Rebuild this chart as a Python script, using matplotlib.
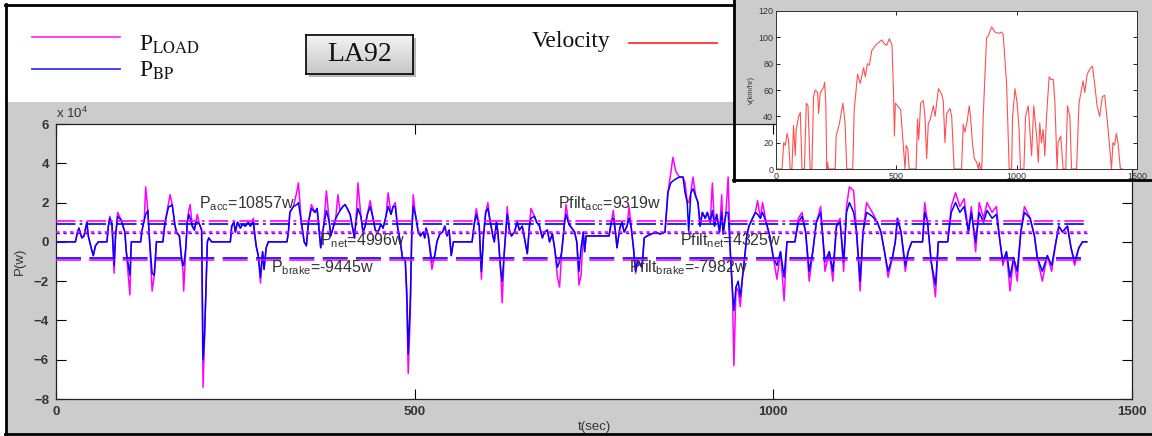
import matplotlib
matplotlib.use('Agg')
import matplotlib.pyplot as plt
import numpy as np
from matplotlib.patches import Rectangle
from matplotlib.lines import Line2D

plt.rcParams['font.family'] = ['Liberation Sans', 'DejaVu Sans']
plt.rcParams['mathtext.fontset'] = 'custom'
plt.rcParams['mathtext.rm'] = 'Liberation Sans'
plt.rcParams['mathtext.it'] = 'Liberation Sans:italic'
plt.rcParams['mathtext.bf'] = 'Liberation Sans:bold'
plt.rcParams['lines.scale_dashes'] = False

# ---------------- data (power in units of 1e4 W) ----------------
t_pw = [0, 27, 30, 32, 36, 39, 43, 45, 49, 52, 55, 57, 59, 71, 73, 75, 78, 81, 83, 86, 91, 96, 98, 103, 105,
        118, 120, 123, 125, 128, 130, 134, 137, 140, 149, 152, 157, 159, 162, 166, 168, 172, 175, 177, 178,
        181, 183, 185, 187, 190, 193, 195, 197, 200, 203, 205, 207, 209, 211, 213, 215, 217, 243, 245, 248,
        250, 253, 257, 260, 264, 268, 271, 275, 277, 279, 282, 285, 288, 290, 293, 296, 322, 324, 326, 331,
        336, 338, 342, 346, 349, 352, 356, 361, 364, 367, 369, 373, 377, 381, 383, 387, 390, 393, 396, 400,
        403, 406, 410, 414, 416, 418, 421, 425, 428, 431, 434, 438, 442, 445, 449, 453, 456, 460, 463, 467,
        470, 473, 476, 480, 483, 487, 489, 491, 494, 496, 498, 501, 505, 508, 512, 514, 516, 519, 524, 528,
        531, 535, 539, 542, 545, 548, 551, 554, 580, 583, 586, 590, 593, 596, 599, 602, 605, 609, 611, 614,
        616, 620, 622, 625, 627, 629, 632, 635, 639, 643, 646, 650, 654, 657, 660, 662, 667, 670, 674, 678,
        681, 685, 688, 692, 695, 699, 702, 705, 709, 711, 715, 719, 723, 726, 729, 732, 735, 737, 739, 771,
        774, 777, 780, 782, 786, 789, 792, 796, 799, 802, 805, 808, 811, 815, 817, 820, 824, 830, 836, 842,
        849, 851, 853, 857, 860, 864, 869, 874, 877, 880, 882, 885, 888, 892, 895, 898, 901, 905, 908, 912,
        915, 918, 921, 925, 928, 930, 934, 937, 940, 943, 945, 948, 951, 954, 957, 960, 963, 966, 971, 975,
        978, 982, 985, 990, 995, 1000, 1005, 1010, 1015, 1019, 1030, 1035, 1040, 1045, 1050, 1055, 1060, 1066,
        1072, 1078, 1083, 1088, 1093, 1098, 1102, 1106, 1112, 1116, 1121, 1125, 1130, 1138, 1145, 1150, 1155,
        1160, 1166, 1170, 1173, 1178, 1184, 1188, 1193, 1208, 1211, 1215, 1220, 1226, 1230, 1243, 1248, 1254,
        1260, 1266, 1272, 1276, 1282, 1287, 1293, 1298, 1305, 1311, 1316, 1320, 1325, 1330, 1335, 1340, 1345,
        1350, 1358, 1364, 1368, 1375, 1382, 1388, 1394, 1398, 1403, 1410, 1415, 1420, 1426, 1431, 1437]

p_bp = [0, 0, 0.5, 0.7, 0.2, 0.3, 1.0, 0.3, -0.3, -0.7, -0.2, -0.1, 0, 0, 0.8, 1.2, 0.9, -1.2, 0.3, 1.3, 1.1, 0.5, -0.5, -1.7, 0,
        0, 0.6, 1.1, 1.4, 1.6, 0.3, -1.6, -1.7, 0, 0, 1.0, 1.8, 1.8, 1.9, 0.8, 0.5, 0.3, -0.8, -1.2, -1.2,
        -0.3, 1.0, 1.4, 1.2, 0.8, 0.6, 1.0, 1.0, 0.9, 0.6, -6.0, -4.8, -2.5, 0, 0.2, 0.1, 0, 0, 0.8, 1.0,
        0.5, 1.0, 0.7, 0.9, 0.8, 1.0, 0.8, 1.0, 0.4, -0.2, -0.7, -1.8, -0.5, -1.4, -0.3, 0, 0, 0.5, 1.5, 1.8,
        1.9, 2.0, 1.0, 0.0, -0.2, 1.0, 1.7, 1.5, 1.7, 0.5, -0.3, 0.8, 1.6, 1.0, 0.3, 0.8, 1.2, 1.4, 1.6, 1.8,
        1.9, 1.7, 1.4, 0.6, 0.2, 1.0, 1.7, 1.3, 0.5, 0.8, 1.4, 1.8, 1.2, 0.6, 0.5, 0.9, 0.7, 1.3, 1.8, 1.4,
        1.8, 1.8, 0.8, 0.0, -0.8, -1.0, -2.5, -5.7, -2.9, 0.5, 1.8, 1.4, 0.5, 0.3, 0.5, 0.2, 0.7, 0.3, -1.0, -0.7,
        0.0, 0.4, 0.5, 0.8, 0.3, 0.6, -0.7, 0, 0, 0.9, 1.4, 0.8, -1.5, 0.3, 1.5, 1.7, 1.1, 0.3, 0.0, 1.0,
        0.5, -1.5, -2.0, -0.5, 0.5, 1.4, 0.6, 0.3, 0.5, 1.0, 0.6, 0.8, 0.0, -0.6, 0.8, 1.2, 1.3, 1.0, 0.8, 0.2,
        0.5, 0.6, 0.0, 0.4, -0.3, -1.3, -1.0, -0.5, 1.0, 1.4, 0.9, 0.7, 0.5, 0.0, -1.5, -0.3, 0.5, -0.5, 0.3, 0.3,
        1.0, 1.2, 0.5, -0.3, 0.7, 1.0, 0.5, 0.8, 1.2, 0.7, -0.3, -1.5, -0.9, -1.2, -1.3, 0.2, 0.3, 0.4, 0.5, 0.4,
        0.5, 1.5, 2.5, 3.0, 3.1, 3.2, 3.3, 3.3, 2.5, 2.0, 0.5, 2.5, 2.7, 2.3, 2.0, 0.8, 1.5, 1.2, 1.5, 1.0,
        1.6, 0.8, 1.4, 0.5, 1.5, 0.4, 1.5, 1.5, -0.5, -2.5, -3.5, -2.3, -2.0, -2.8, -1.8, -0.8, 0.3, 0.8, 1.2, 1.5,
        1.4, 1.2, 1.5, 1.0, 0.3, -0.8, -1.2, -0.5, -1.8, 0, 0, 1.0, 1.3, 0.5, -1.5, -0.5, 1.0, 1.5,
        -1.0, -0.5, -1.5, 0.8, 1.0, -1.0, 1.5, 2.0, 1.5, 0.5, -2.0, 0.5, 1.5, 1.3, 1.0, 0.5, -0.5,
        -1.5, -0.8, 0, 1.2, 0.5, -1.2, -0.5, 0, 0, 1.5, 1.0, -1.0, -2.2, 0, 0, 1.5, 2.0,
        1.5, 1.8, 0.5, 1.5, 0.0, 1.5, 1.0, 1.6, 1.2, 1.4, 0.0, -1.0, -0.5, -1.8, -0.8, -1.5, 0.5,
        1.5, 1.2, 0.3, -0.8, -1.5, -0.7, -1.2, 0, 0.8, 0.5, 0.8, -0.3, -1.0, -0.3, 0, 0]

p_load = [0, 0, 0.5, 0.7, 0.2, 0.3, 1.0, 0.3, -0.3, -0.7, -0.2, -0.1, 0, 0, 0.8, 1.3, 0.9, -1.6, 0.3, 1.5, 1.1, 0.5, -0.5, -2.7, 0,
          0, 0.6, 1.1, 2.8, 1.6, 0.3, -2.5, -1.7, 0, 0, 1.0, 2.0, 2.4, 1.9, 0.8, 0.5, 0.3, -0.8, -1.5, -2.5,
          -0.3, 1.0, 1.6, 1.9, 0.8, 0.6, 1.0, 1.4, 0.9, 0.6, -7.4, -5.0, -2.5, 0, 0.2, 0.1, 0, 0, 0.8, 1.0,
          0.5, 1.0, 0.7, 0.9, 0.8, 1.0, 0.8, 1.2, 0.4, -0.2, -0.7, -2.1, -0.5, -1.4, -0.3, 0, 0, 0.5, 1.5, 1.8,
          2.6, 3.0, 1.0, 0.0, -0.2, 1.0, 1.9, 1.5, 1.7, 0.5, -0.3, 0.8, 2.6, 1.0, 0.3, 0.8, 1.2, 2.4, 1.6, 1.8,
          1.9, 1.7, 1.4, 0.6, 0.2, 1.0, 3.0, 1.3, 0.5, 0.8, 1.4, 2.1, 1.2, 0.6, 0.5, 0.9, 0.7, 1.3, 2.5, 1.4,
          1.8, 2.0, 0.8, 0.0, -0.8, -1.0, -3.0, -6.7, -3.5, 0.5, 2.4, 1.4, 0.5, 0.3, 0.5, 0.2, 0.7, 0.3, -1.4, -0.7,
          0.0, 0.4, 0.5, 0.8, 0.3, 0.6, -0.7, 0, 0, 0.9, 1.7, 0.8, -1.9, 0.3, 1.5, 2.0, 1.1, 0.3, 0.0, 1.0,
          0.5, -1.5, -3.1, -0.5, 0.5, 1.8, 0.6, 0.3, 0.5, 1.0, 0.6, 0.8, 0.0, -0.6, 0.8, 1.7, 1.3, 1.0, 0.8, 0.2,
          0.5, 0.6, 0.0, 0.4, -0.3, -1.8, -2.3, -0.5, 1.0, 1.9, 0.9, 0.7, 0.5, 0.0, -2.2, -1.7, 0.5, -0.5, 0.3, 0.3,
          1.0, 1.6, 0.5, -0.3, 0.7, 1.0, 0.5, 0.8, 1.8, 0.7, -0.3, -1.6, -0.9, -1.2, -1.3, 0.2, 0.3, 0.4, 0.5, 0.4,
          0.5, 1.5, 2.5, 3.5, 4.3, 3.6, 3.3, 3.3, 3.0, 2.0, 2.0, 2.5, 3.3, 2.3, 2.0, 0.8, 1.5, 1.2, 1.5, 1.0,
          3.0, 0.8, 1.4, 0.5, 2.4, 0.4, 1.5, 3.3, -0.5, -2.5, -6.3, -2.3, -2.5, -3.3, -1.8, -0.8, 0.3, 0.8, 1.2, 1.5,
          2.1, 1.2, 2.0, 1.0, 0.3, -0.8, -1.9, -0.5, -3.0, 0, 0, 1.2, 1.5, 0.5, -2.0, -0.5, 1.0, 1.8,
          -1.5, -0.5, -2.0, 0.8, 1.2, -1.5, 1.8, 2.8, 2.6, 0.5, -2.5, 0.5, 2.0, 1.5, 1.0, 0.5, -0.5,
          -1.8, -0.8, 0, 1.2, 0.5, -1.5, -0.5, 0, 0, 2.0, 1.0, -1.0, -2.8, 0, 0, 1.8, 2.5,
          1.8, 2.2, 0.5, 1.8, -0.5, 2.0, 1.2, 2.0, 1.5, 1.8, 0.0, -1.2, -0.5, -2.5, -0.8, -2.0, 0.5,
          1.8, 1.2, 0.3, -0.8, -2.0, -0.7, -1.5, 0, 0.8, 0.5, 0.8, -0.3, -1.2, -0.3, 0, 0]

# average power levels (W)
p_acc, p_net, p_brake = 10857, 4996, -9445
pfilt_acc, pfilt_net, pfilt_brake = 9319, 4325, -7982

# velocity profile (s, km/h)
t_v = [0, 25, 32, 39, 46, 52, 59, 66, 73, 80, 84, 94, 101, 108, 118, 126, 133, 142, 149, 156, 163, 173, 177, 184,
       198, 202, 207, 211, 214, 218, 246, 250, 264, 278, 287, 294, 319, 325, 339, 350, 364, 371, 380, 388, 398,
       419, 440, 450, 460, 471, 482, 488, 492, 496, 509, 518, 530, 536, 541, 548, 553, 582, 588, 593, 601, 612,
       619, 626, 633, 640, 654, 661, 675, 688, 695, 702, 709, 723, 730, 740, 771, 778, 785, 795, 803, 809, 817,
       824, 834, 841, 845, 850, 855, 861, 875, 882, 896, 910, 924, 937, 944, 958, 969, 979, 983, 993, 1002, 1010,
       1016, 1030, 1037, 1048, 1058, 1062, 1071, 1083, 1090, 1096, 1103, 1110, 1117, 1124, 1135, 1142, 1152,
       1159, 1168, 1172, 1183, 1193, 1204, 1211, 1221, 1228, 1249, 1259, 1276, 1283, 1293, 1304, 1315, 1324,
       1334, 1345, 1356, 1366, 1380, 1394, 1400, 1407, 1414, 1421, 1431, 1440]
v_kmh = [0, 0, 20, 18, 27, 22, 0, 0, 33, 10, 30, 40, 43, 0, 0, 50, 48, 0, 0, 55, 60, 58, 42, 58,
         62, 66, 50, 0, 5, 0, 0, 25, 35, 50, 35, 0, 0, 45, 72, 65, 77, 70, 80, 79, 90,
         95, 98, 95, 94, 99, 94, 60, 25, 50, 47, 45, 15, 0, 18, 15, 0, 0, 38, 22, 50, 52,
         40, 8, 35, 37, 48, 40, 61, 57, 52, 20, 42, 46, 40, 0, 0, 34, 28, 37, 48, 38, 18,
         8, 5, 0, 5, 0, 0, 40, 100, 101, 108, 104, 103, 104, 102, 65, 0, 0, 40, 61, 50, 30,
         0, 0, 40, 48, 20, 10, 48, 25, 5, 35, 20, 30, 10, 40, 70, 68, 68,
         50, 0, 20, 25, 0, 0, 48, 40, 0, 0, 50, 67, 58, 72, 76, 78, 65,
         48, 40, 55, 56, 30, 0, 20, 18, 27, 20, 0, 0]

x_ticks = [0, 500, 1000, 1500]
y_ticks = [-8, -6, -4, -2, 0, 2, 4, 6]
v_ticks = [0, 20, 40, 60, 80, 100, 120]

# ---------------- figure ----------------
W, H = 1152, 436
fig = plt.figure(figsize=(W / 100, H / 100), dpi=100, facecolor='white')


def fx(px):
    return px / W


def fy(py):
    return 1 - py / H


def fline(x0, y0, x1, y1, **kw):
    fig.add_artist(Line2D([fx(x0), fx(x1)], [fy(y0), fy(y1)], transform=fig.transFigure, **kw))


# gray lower panel
fig.patches.append(Rectangle((fx(6), fy(434)), 1 - fx(6), fy(102) - fy(434), transform=fig.transFigure,
                             facecolor='#cccccc', edgecolor='none', zorder=0))
# inset gray panel
fig.patches.append(Rectangle((fx(733), fy(180)), 1 - fx(733), fy(0) - fy(180), transform=fig.transFigure,
                             facecolor='#cccccc', edgecolor='none', zorder=1))
# outer borders
fline(6, 4, 6, 434, color='black', lw=2.0)
fline(5, 5, 734, 5, color='black', lw=2.0)
fline(5, 434, 1152, 434, color='black', lw=2.0)
fline(734, 0, 734, 181, color='black', lw=2.0, zorder=5)
fline(733, 180, 1152, 180, color='black', lw=2.0, zorder=5)

# legend area
fline(32, 37, 120, 37, color='#ff33ff', lw=1.3)
fline(32, 69, 120, 69, color='#3333ff', lw=1.3)
fig.text(fx(139), fy(51), r'P$_{\mathrm{LOAD}}$', fontsize=17, family='Liberation Serif',
         math_fontfamily='stix', color='#111111', va='baseline')
fig.text(fx(139), fy(77), r'P$_{\mathrm{BP}}$', fontsize=17, family='Liberation Serif',
         math_fontfamily='stix', color='#111111', va='baseline')
fig.text(fx(532), fy(42), 'Velocity', fontsize=17, family='Liberation Serif', color='#111111', va='center')
fline(629, 43, 717, 43, color='#ff3333', lw=1.3)

# LA92 button
fig.patches.append(Rectangle((fx(309), fy(77)), fx(107), 39 / H, transform=fig.transFigure,
                             facecolor='#8a8a8a', edgecolor='none', alpha=0.6, zorder=2))
bax = fig.add_axes([fx(306), fy(74), fx(107), 39 / H], zorder=3)
grad = np.linspace(0, 1, 50).reshape(-1, 1)
bax.imshow(grad, aspect='auto', cmap=matplotlib.colors.LinearSegmentedColormap.from_list(
    'g', ['#f4f4f4', '#c6c6c6']), extent=[0, 1, 0, 1], origin='upper')
bax.set_xticks([])
bax.set_yticks([])
for s in bax.spines.values():
    s.set_linewidth(1.2)
bax.text(0.5, 0.5, 'LA92', transform=bax.transAxes, ha='center', va='center', fontsize=20,
         family='Liberation Serif', color='#111111')

# ---------------- main axes ----------------
ax = fig.add_axes([fx(56), fy(399), fx(1132) - fx(56), fy(124) - fy(399)], zorder=2)
ax.set_facecolor('white')
ax.plot(t_pw, p_load, color='#ff00ff', lw=1.1, zorder=3)
ax.plot(t_pw, p_bp, color='#0000ff', lw=1.1, zorder=4)

t_end = t_pw[-1]
ax.hlines(p_acc / 1e4, 0, t_end, color='#ff00ff', lw=1.2, linestyles=[(0, (14, 3, 2, 3))], zorder=5)
ax.hlines(pfilt_acc / 1e4, 0, t_end, color='#0000ff', lw=1.2, linestyles=[(0, (14, 3, 2, 3))], zorder=5)
ax.hlines(p_net / 1e4, 0, t_end, color='#ff00ff', lw=1.2, linestyles=[(0, (2.5, 2.5))], zorder=5)
ax.hlines(pfilt_net / 1e4, 0, t_end, color='#6600ff', lw=1.0, linestyles=[(0, (2.5, 2.5))], zorder=5)
ax.hlines(p_brake / 1e4, 0, t_end, color='#ff00ff', lw=1.2, linestyles=[(0, (18, 6))], zorder=5)
ax.hlines(pfilt_brake / 1e4, 0, t_end, color='#0000ff', lw=1.2, linestyles=[(0, (18, 6))], zorder=5)

ax.set_xlim(0, 1500)
ax.set_ylim(-8, 6)
ax.set_xticks(x_ticks)
ax.set_yticks(y_ticks)
ax.tick_params(direction='in', top=True, right=True, length=7, width=0.8, labelsize=9.5,
               labelcolor='#333333', pad=5)
for lab in ax.get_xticklabels() + ax.get_yticklabels():
    lab.set_fontweight('bold')
for s in ax.spines.values():
    s.set_linewidth(0.9)
    s.set_color('#222222')
ax.set_xlabel('t(sec)', fontsize=9.5, color='#333333', labelpad=2)
ax.set_ylabel('P(w)', fontsize=9.5, color='#333333', labelpad=6)
ax.text(0.0, 1.012, r'x 10$^{4}$', transform=ax.transAxes, fontsize=9.5, color='#333333', va='bottom')

ann_kw = dict(fontsize=11.5, color='#333333', va='baseline', zorder=6)
ax.text(199, 1.73, r'P$_{\mathrm{acc}}$=%dw' % p_acc, **ann_kw)
ax.text(368, -0.15, r'P$_{\mathrm{net}}$=%dw' % p_net, **ann_kw)
ax.text(300, -1.57, r'P$_{\mathrm{brake}}$=%dw' % p_brake, **ann_kw)
ax.text(700, 1.73, r'Pfilt$_{\mathrm{acc}}$=%dw' % pfilt_acc, **ann_kw)
ax.text(870, -0.15, r'Pfilt$_{\mathrm{net}}$=%dw' % pfilt_net, **ann_kw)
ax.text(799, -1.57, r'Pfilt$_{\mathrm{brake}}$=%dw' % pfilt_brake, **ann_kw)

# ---------------- velocity inset ----------------
iax = fig.add_axes([fx(776), fy(169), fx(1137) - fx(776), fy(11) - fy(169)], zorder=6)
iax.set_facecolor('white')
iax.plot(t_v, v_kmh, color='#ff5050', lw=0.8)
iax.set_xlim(0, 1500)
iax.set_ylim(0, 120)
iax.set_xticks(x_ticks)
iax.set_yticks(v_ticks)
iax.tick_params(direction='in', top=True, right=True, length=3, width=0.6, labelsize=6.5,
                labelcolor='#333333', pad=2)
for s in iax.spines.values():
    s.set_linewidth(0.7)
    s.set_color('#333333')
iax.set_ylabel('v(km/hr)', fontsize=5.5, color='#333333', labelpad=2)

fig.savefig('out.png', dpi=100, facecolor=fig.get_facecolor())
